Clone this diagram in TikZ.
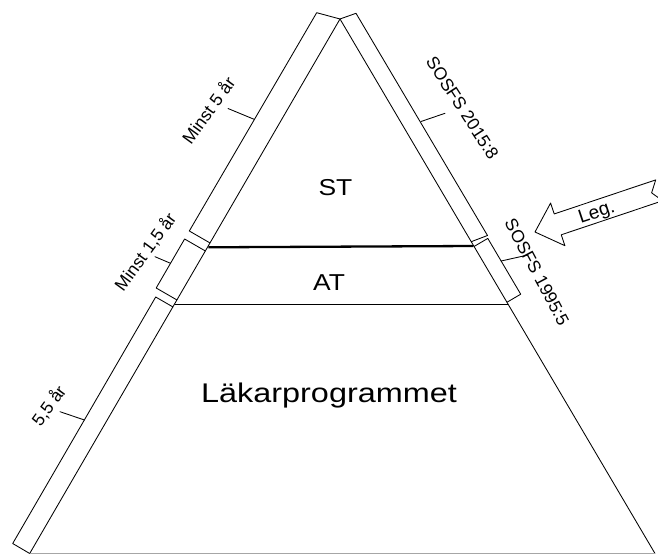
\documentclass[tikz,border=0pt]{standalone}
\usepackage{fontspec}
\usepackage{graphicx}
\setmainfont{Liberation Sans}
\begin{document}
\begin{tikzpicture}[x=1pt,y=-1pt,line join=round,
  edge/.style={draw=black,line width=0.85pt},
  baseedge/.style={draw=black!35,line width=0.8pt},
  boundary/.style={draw=black,line width=2.3pt},
  bracketbox/.style={draw=black,line width=0.85pt},
  tickline/.style={draw=black,line width=0.85pt,line cap=round},
  sidelabel/.style={font=\fontsize{17.5}{17.5}\selectfont,inner sep=0pt},
  levellabel/.style={font=\fontsize{23}{23}\selectfont,inner sep=0pt},
  biglabel/.style={font=\fontsize{27}{27}\selectfont,inner sep=0pt},
  arrowlabel/.style={font=\fontsize{19}{19}\selectfont,inner sep=0pt},
  arrowbox/.style={draw=black,line width=0.85pt,fill=white}]
\useasboundingbox (0,0) rectangle (658,556);
\clip (0,0) rectangle (658,556);
% triangle
\coordinate (A) at (340,19);
\coordinate (BL) at (29.7,553.5);
\coordinate (BR) at (655,553.5);
\coordinate (STl) at (208.3,247.3);
\coordinate (STr) at (473.3,246);
\coordinate (ATl) at (174.5,304.3);
\coordinate (ATr) at (508,304.3);
\draw[edge] (BL) -- (A) -- (BR);
\draw[baseedge] (BL) -- (BR);
\draw[boundary] (STl) -- (STr);
\draw[edge] (ATl) -- (ATr);
% left brackets
\coordinate (ULt) at (316.7,12.7);
\coordinate (ULbo) at (189.3,231);
\coordinate (ULbi) at (210.1,243);
\draw[bracketbox] (A) -- (ULt) -- (ULbo) -- (ULbi);
\coordinate (MLti) at (205.4,251);
\coordinate (MLto) at (184.6,239);
\coordinate (MLbo) at (156.2,288);
\coordinate (MLbi) at (177,300);
\draw[bracketbox] (MLti) -- (MLto) -- (MLbo) -- (MLbi);
\coordinate (LLti) at (173,307);
\coordinate (LLto) at (155.7,297);
\coordinate (LLbo) at (12.7,543.5);
\draw[bracketbox] (LLti) -- (LLto) -- (LLbo) -- (BL);
% right brackets
\coordinate (URt) at (356,13.3);
\coordinate (URbo) at (487.5,235.5);
\coordinate (URbi) at (471.2,241.7);
\draw[bracketbox] (A) -- (URt) -- (URbo) -- (URbi);
\coordinate (LRti) at (474,246.5);
\coordinate (LRto) at (487.8,238.4);
\coordinate (LRbo) at (520.7,294.2);
\coordinate (LRbi) at (506.9,302.3);
\draw[bracketbox] (LRti) -- (LRto) -- (LRbo) -- (LRbi);
% ticks
\coordinate (t1a) at (254.1,119.3); \coordinate (t1b) at (228,108.5);
\coordinate (t2a) at (170.5,263.3); \coordinate (t2b) at (155,256.7);
\coordinate (t3a) at (84.4,420);   \coordinate (t3b) at (60,411.7);
\coordinate (t4a) at (421,121.5);  \coordinate (t4b) at (445,113.3);
\coordinate (t5a) at (501.1,261);  \coordinate (t5b) at (528,255);
\draw[tickline] (t1a) -- (t1b);
\draw[tickline] (t2a) -- (t2b);
\draw[tickline] (t3a) -- (t3b);
\draw[tickline] (t4a) -- (t4b);
\draw[tickline] (t5a) -- (t5b);
% labels
\node[levellabel] (st) at (335.5,187.5) {\scalebox{1.15}[1]{ST}};
\node[levellabel] (at) at (329,282.5) {\scalebox{1.15}[1]{AT}};
\node[biglabel] (lp) at (329,396) {\scalebox{1.2}[1]{Läkarprogrammet}};
\node[sidelabel,rotate=54] (l1) at (208,110) {Minst 5 år};
\node[sidelabel,rotate=54] (l2) at (145.5,252) {Minst 1,5 år};
\node[sidelabel,rotate=54] (l3) at (49,406) {5,5 år};
\node[sidelabel,rotate=-57] (r1) at (462.5,108) {SOSFS 2015:8};
\node[sidelabel,rotate=-62] (r2) at (537,272) {SOSFS 1995:5};
% arrow
\begin{scope}[shift={(535,232)},rotate=18.55]
\draw[arrowbox] (0,0) -- (24,-22.5) -- (24,-11) -- (131,-11) -- (123,0)
  -- (131,11) -- (24,11) -- (24,22.5) -- cycle;
\end{scope}
\node[arrowlabel,rotate=18.55] (leg) at (597,213.5) {Leg.};
\end{tikzpicture}
\end{document}
